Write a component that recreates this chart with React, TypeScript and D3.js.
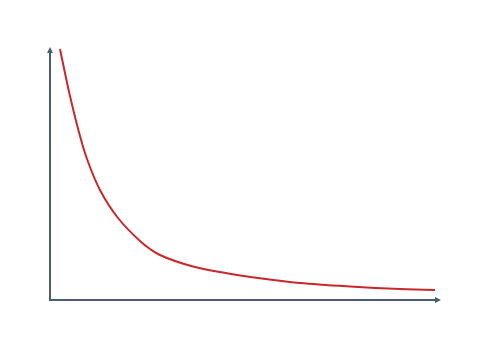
import React from "react";
import * as d3 from "d3";

const xValues = [1, 2, 3, 3.7, 5, 6.8, 9, 10, 11, 14.3, 17.7, 21, 25, 30, 35, 38.5];
const yValues = [100.4, 81.6, 65.6, 56.4, 44, 32.8, 23.6, 20.4, 18, 13.4, 10.7, 8.7, 6.8, 5.4, 4.4, 4];

const W = 480;
const H = 360;
const AXIS = "#4a5b72";
const LINE = "#c9282b";

export default function App() {
  const x = d3.scaleLinear().domain([0, 39]).range([50, 440]);
  const y = d3.scaleLinear().domain([0, 100]).range([300, 50]);
  const data = xValues.map((v, i) => [v, yValues[i]] as [number, number]);
  const line = d3
    .line<[number, number]>()
    .x((d) => x(d[0]))
    .y((d) => y(d[1]))
    .curve(d3.curveCatmullRom.alpha(0.5));

  const x0 = x(0);
  const y0 = y(0);
  const xEnd = x(39);
  const yTop = y(100);

  return (
    <svg
      width={W}
      height={H}
      style={{ position: "absolute", left: 0, top: 0, background: "#fff" }}
    >
      <line x1={x0} y1={y0 + 1} x2={x0} y2={yTop + 2} stroke={AXIS} strokeWidth={2} />
      <path d={`M${x0},${yTop - 3} L${x0 - 3},${yTop + 3} L${x0 + 3},${yTop + 3} Z`} fill={AXIS} />
      <line x1={x0 - 1} y1={y0} x2={xEnd - 2} y2={y0} stroke={AXIS} strokeWidth={2} />
      <path d={`M${xEnd + 1},${y0} L${xEnd - 5},${y0 - 3} L${xEnd - 5},${y0 + 3} Z`} fill={AXIS} />
      <path d={line(data) ?? ""} fill="none" stroke={LINE} strokeWidth={2} />
    </svg>
  );
}
